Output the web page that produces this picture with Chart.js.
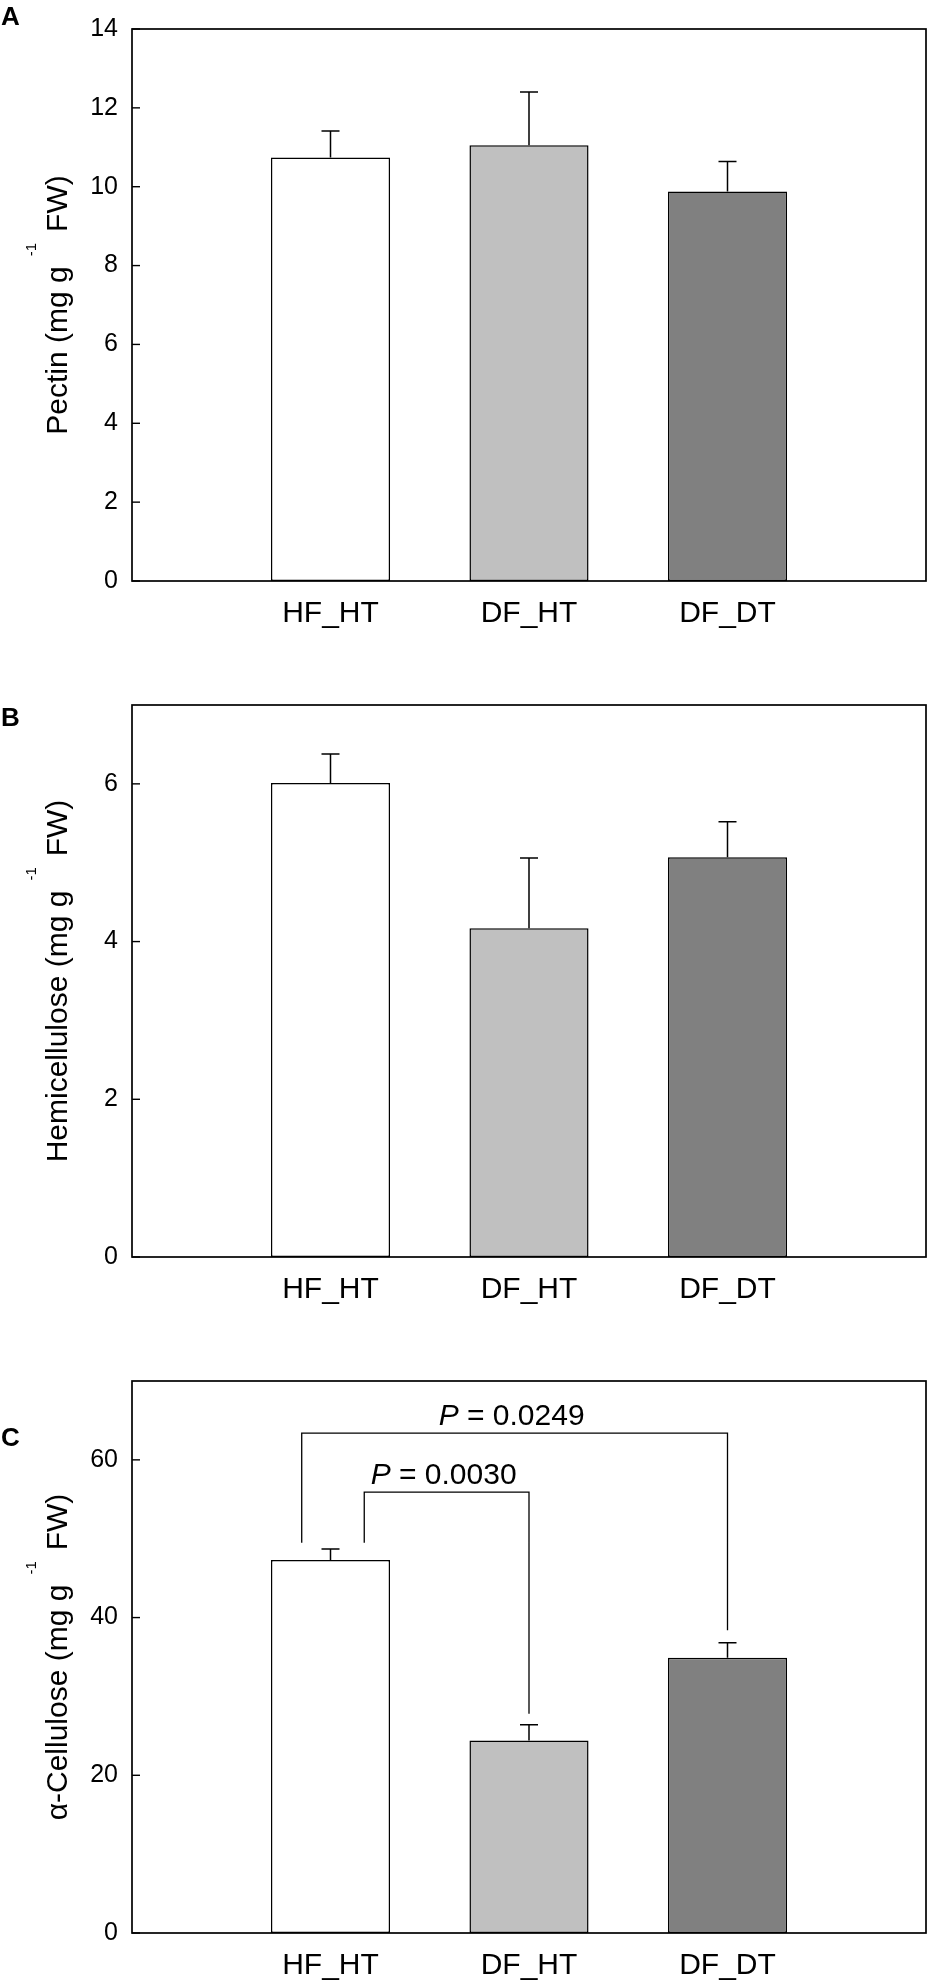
<!DOCTYPE html>
<html>
<head>
<meta charset="utf-8">
<script src="https://cdn.jsdelivr.net/npm/chart.js@4.4.1/dist/chart.umd.min.js"></script>
<style>
html,body{margin:0;padding:0;background:#fff;}
#wrap{position:relative;width:941px;height:1983px;overflow:hidden;background:#fff;}
canvas{position:absolute;left:0;display:block;}
</style>
</head>
<body>
<div id="wrap">
  <canvas id="cA" width="941" height="676" style="top:0px"></canvas>
  <canvas id="cB" width="941" height="676" style="top:676px"></canvas>
  <canvas id="cC" width="941" height="631" style="top:1352px"></canvas>
</div>
<script>
// ---------------- DATA ----------------
const categories = ['HF_HT', 'DF_HT', 'DF_DT'];

const pectinMean = [10.74, 11.05, 9.88];
const pectinErr  = [0.67, 1.35, 0.76];
const pectinTicks = [0, 2, 4, 6, 8, 10, 12, 14];
const pectinMax = 14;

const hemiMean = [6.01, 4.17, 5.07];
const hemiErr  = [0.37, 0.89, 0.45];
const hemiTicks = [0, 2, 4, 6];
const hemiMax = 7;

const celluloseMean = [47.3, 24.4, 34.9];
const celluloseErr  = [1.4, 2.0, 1.9];
const celluloseTicks = [0, 20, 40, 60];
const celluloseMax = 70;

// significance brackets for panel C (values in axis units)
const celluloseBrackets = [
  { from: 'HF_HT', to: 'DF_DT', level: 63.4, fromEnd: 49.5, toEnd: 38.4, p: '0.0249' },
  { from: 'HF_HT', to: 'DF_HT', level: 55.9, fromEnd: 49.5, toEnd: 27.8, p: '0.0030' }
];

// ---------------- STYLE ----------------
const FONT = "'Liberation Sans', Arial, Helvetica, sans-serif";
Chart.defaults.font.family = FONT;
Chart.defaults.color = '#000';
const barColors = ['#ffffff', '#c0c0c0', '#808080'];
const bracketLegShift = [-0.145, 0.17]; // x shift of the left leg of each bracket (category units)

function makePanel(cfg) {
  const labels = ['', ...categories, ''];
  const data = [null, ...cfg.mean, null];
  const overlay = {
    id: 'overlay' + cfg.letter,
    afterDatasetsDraw(chart) {
      const ctx = chart.ctx, a = chart.chartArea;
      const xs = chart.scales.x, ys = chart.scales.y;
      ctx.save();
      // error bars
      ctx.strokeStyle = '#000';
      ctx.lineWidth = 1.5;
      cfg.mean.forEach((m, i) => {
        const x = xs.getPixelForValue(i + 1);
        const y0 = ys.getPixelForValue(m);
        const y1 = ys.getPixelForValue(m + cfg.err[i]);
        ctx.beginPath();
        ctx.moveTo(x, y0); ctx.lineTo(x, y1);
        ctx.moveTo(x - 9, y1); ctx.lineTo(x + 9, y1);
        ctx.stroke();
      });
      // frame
      ctx.lineWidth = 1.7;
      ctx.strokeRect(a.left, a.top, a.right - a.left, a.bottom - a.top);
      // inward ticks
      ctx.lineWidth = 1.4;
      ys.ticks.forEach(t => {
        const y = ys.getPixelForValue(t.value);
        ctx.beginPath(); ctx.moveTo(a.left, y); ctx.lineTo(a.left + 8, y); ctx.stroke();
      });
      // brackets
      (cfg.brackets || []).forEach((b, k) => {
        const xi = categories.indexOf(b.from) + 1 + bracketLegShift[k];
        const xj = categories.indexOf(b.to) + 1;
        const px1 = xs.getPixelForValue(xi), px2 = xs.getPixelForValue(xj);
        const py = ys.getPixelForValue(b.level);
        ctx.lineWidth = 1.3;
        ctx.beginPath();
        ctx.moveTo(px1, ys.getPixelForValue(b.fromEnd));
        ctx.lineTo(px1, py);
        ctx.lineTo(px2, py);
        ctx.lineTo(px2, ys.getPixelForValue(b.toEnd));
        ctx.stroke();
        const fI = 'italic 30px ' + FONT, fN = '30px ' + FONT;
        ctx.font = fI; const w1 = ctx.measureText('P').width;
        ctx.font = fN; const rest = ' = ' + b.p; const w2 = ctx.measureText(rest).width;
        let tx = (px1 + px2) / 2 - 3 - (w1 + w2) / 2;
        ctx.fillStyle = '#000';
        ctx.textBaseline = 'alphabetic'; ctx.textAlign = 'left';
        ctx.font = fI; ctx.fillText('P', tx, py - 8);
        ctx.font = fN; ctx.fillText(rest, tx + w1, py - 8);
      });
      // y title with superscript
      const [t1, sup, t2] = cfg.title;
      const fMain = '30px ' + FONT, fSup = '15px ' + FONT;
      ctx.font = fMain; const a1 = ctx.measureText(t1).width, a3 = ctx.measureText(t2).width;
      ctx.font = fSup; const a2 = ctx.measureText(sup).width;
      const g1 = 10, g2 = 11;
      const total = a1 + g1 + a2 + g2 + a3;
      ctx.save();
      ctx.translate(67, (a.top + a.bottom) / 2);
      ctx.rotate(-Math.PI / 2);
      ctx.fillStyle = '#000'; ctx.textBaseline = 'alphabetic'; ctx.textAlign = 'left';
      let x = -total / 2;
      ctx.font = fMain; ctx.fillText(t1, x, 0); x += a1 + g1;
      ctx.font = fSup; ctx.fillText(sup, x, -31); x += a2 + g2;
      ctx.font = fMain; ctx.fillText(t2, x, 0);
      ctx.restore();
      // panel letter
      ctx.font = 'bold 26px ' + FONT;
      ctx.fillStyle = '#000'; ctx.textAlign = 'left'; ctx.textBaseline = 'alphabetic';
      ctx.fillText(cfg.letter, 1, cfg.letterBase);
      ctx.restore();
    }
  };
  return new Chart(document.getElementById(cfg.id), {
    type: 'bar',
    data: {
      labels: labels,
      datasets: [{
        data: data,
        backgroundColor: ['#fff', ...barColors, '#fff'],
        borderColor: '#000',
        borderWidth: 1.5,
        borderSkipped: false,
        barPercentage: 0.6,
        categoryPercentage: 1
      }]
    },
    options: {
      responsive: false,
      animation: false,
      devicePixelRatio: 1,
      layout: { padding: { top: 17, right: 2, left: 0, bottom: 0 } },
      plugins: { legend: { display: false }, tooltip: { enabled: false } },
      scales: {
        x: {
          type: 'category',
          offset: false,
          grid: { display: false, drawTicks: false },
          border: { display: false },
          ticks: { font: { size: 30 }, color: '#000', padding: 15, autoSkip: false, maxRotation: 0 },
          afterFit(s) { s.height = cfg.xH; }
        },
        y: {
          min: 0, max: cfg.max,
          grid: { display: false, drawTicks: false },
          border: { display: false },
          ticks: { font: { size: 25 }, color: '#000', padding: 14 },
          afterBuildTicks(s) { s.ticks = cfg.ticks.map(v => ({ value: v })); },
          afterFit(s) { s.width = 132; }
        }
      }
    },
    plugins: [overlay]
  });
}

makePanel({ id: 'cA', mean: pectinMean, err: pectinErr, ticks: pectinTicks, max: pectinMax,
  title: ['Pectin (mg g', '-1', 'FW)'], letter: 'A', letterBase: 25, xH: 95, brackets: [] });
makePanel({ id: 'cB', mean: hemiMean, err: hemiErr, ticks: hemiTicks, max: hemiMax,
  title: ['Hemicellulose (mg g', '-1', 'FW)'], letter: 'B', letterBase: 50, xH: 95, brackets: [] });
makePanel({ id: 'cC', mean: celluloseMean, err: celluloseErr, ticks: celluloseTicks, max: celluloseMax,
  title: ['\u03b1-Cellulose (mg g', '-1', 'FW)'], letter: 'C', letterBase: 94, xH: 50, brackets: celluloseBrackets });
</script>
</body>
</html>
